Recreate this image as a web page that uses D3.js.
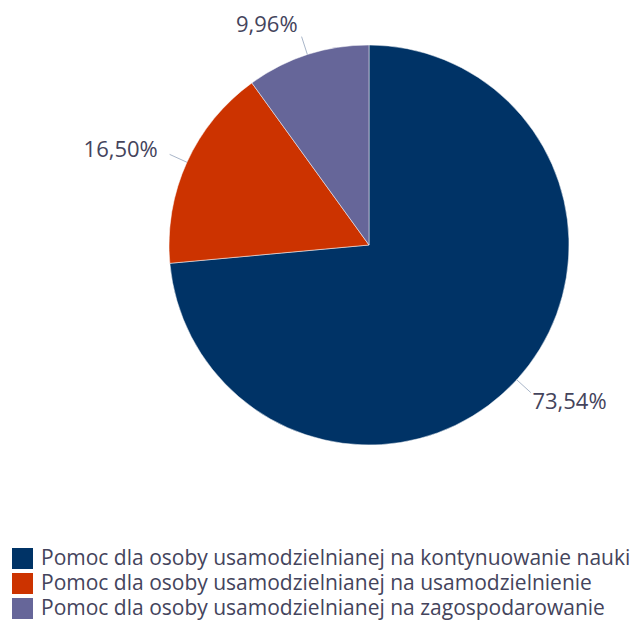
<!DOCTYPE html>
<html>
<head>
<meta charset="utf-8">
<script src="https://cdn.jsdelivr.net/npm/d3@7"></script>
<style>
  html, body { margin: 0; padding: 0; background: #fff; }
  svg { display: block; }
</style>
</head>
<body>
<svg id="chart" width="633" height="620"></svg>
<script>
const categories = [
  "Pomoc dla osoby usamodzielnianej na kontynuowanie nauki",
  "Pomoc dla osoby usamodzielnianej na usamodzielnienie",
  "Pomoc dla osoby usamodzielnianej na zagospodarowanie"
];
const values = [73.54, 16.50, 9.96];
const valueLabels = ["73,54%", "16,50%", "9,96%"];
const colors = ["#003366", "#cc3300", "#666699"];

const W = 633, H = 620;
const cx = 369, cy = 245, R = 200;
const textColor = "#44445c";
const font = "'Open Sans', sans-serif";

const svg = d3.select("#chart");
const g = svg.append("g").attr("transform", `translate(${cx},${cy})`);

const pie = d3.pie().sort(null).value(d => d.v);
const data = values.map((v, i) => ({ v, i }));
const arcs = pie(data);

const arc = d3.arc().innerRadius(0).outerRadius(R);
const color = d3.scaleOrdinal().domain(categories.map((c, i) => i)).range(colors);

g.selectAll("path.slice")
  .data(arcs)
  .join("path")
  .attr("class", "slice")
  .attr("d", arc)
  .attr("fill", d => color(d.data.i))
  .attr("stroke", "#ffffff")
  .attr("stroke-width", 0.5);

function polar(r, a) { return [r * Math.sin(a), -r * Math.cos(a)]; }

// leader lines
g.selectAll("line.leader")
  .data(arcs)
  .join("line")
  .attr("class", "leader")
  .each(function(d) {
    const a = (d.startAngle + d.endAngle) / 2;
    const p1 = polar(R, a), p2 = polar(R + 19, a);
    d3.select(this).attr("x1", p1[0]).attr("y1", p1[1]).attr("x2", p2[0]).attr("y2", p2[1]);
  })
  .attr("stroke", "#a9b6c9")
  .attr("stroke-width", 1);

// value labels
g.selectAll("text.val")
  .data(arcs)
  .join("text")
  .attr("class", "val")
  .each(function(d) {
    const a = (d.startAngle + d.endAngle) / 2;
    const p = polar(R + 32, a);
    const right = Math.sin(a) > 0;
    d3.select(this)
      .attr("x", right ? p[0] - 8 : p[0])
      .attr("y", p[1])
      .attr("text-anchor", right ? "start" : "end");
  })
  .attr("dy", "0.35em")
  .attr("font-family", font)
  .attr("font-size", 22)
  .attr("fill", textColor)
  .text(d => valueLabels[d.data.i]);

// legend
const legend = svg.append("g").attr("transform", "translate(12,548)");
const rowH = 25;
const rows = legend.selectAll("g.row")
  .data(categories)
  .join("g")
  .attr("class", "row")
  .attr("transform", (d, i) => `translate(0,${i * rowH})`);
rows.append("rect")
  .attr("width", 21).attr("height", 21)
  .attr("fill", (d, i) => colors[i]);
rows.append("text")
  .attr("x", 29)
  .attr("y", 17)
  .attr("font-family", font)
  .attr("font-size", 21)
  .attr("fill", textColor)
  .text(d => d);
</script>
</body>
</html>
